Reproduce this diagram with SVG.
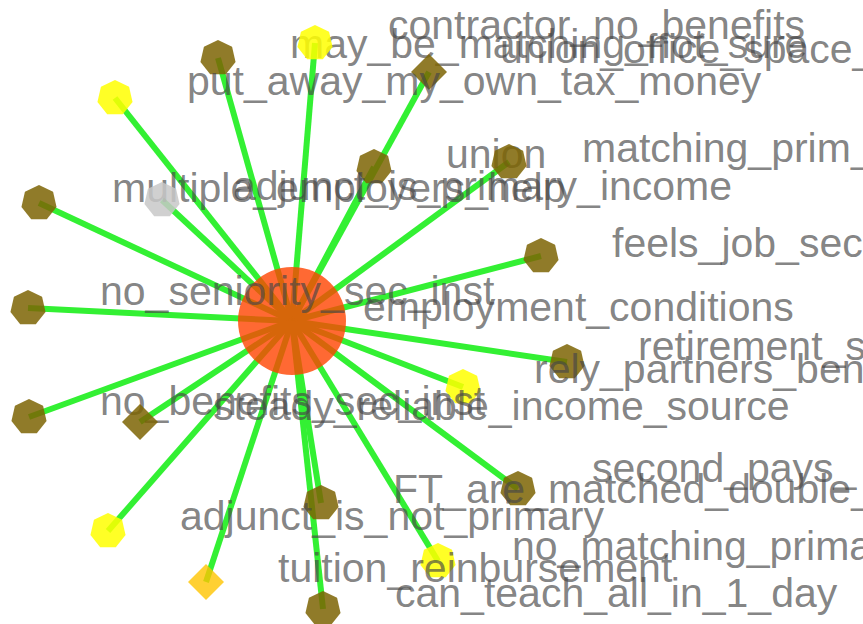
<svg xmlns="http://www.w3.org/2000/svg" width="863" height="624" viewBox="0 0 863 624">
<style>
.e{stroke:#33f033;stroke-width:6;fill:none}
.br{fill:#7d6404;fill-opacity:.85}
.ye{fill:#ffff00;fill-opacity:.85}
.gr{fill:#c8c8c8;fill-opacity:.85}
.go{fill:#ffc400;fill-opacity:.8}
.hub{fill:#ff4400;fill-opacity:.8}
text{font-family:"Liberation Sans",Arial,sans-serif;font-size:41px;fill:#474747;fill-opacity:.68}
</style>
<defs>
<polygon id="hep" points="0,-18 14.07,-11.22 17.55,4 7.81,16.22 -7.81,16.22 -17.55,4 -14.07,-11.22"/>
<polygon id="dia" points="0,-18 18,0 0,18 -18,0"/>
</defs>
<rect width="863" height="624" fill="#ffffff"/>
<g id="edges">
<line class="e" x1="292" y1="321" x2="218" y2="58"/>
<line class="e" x1="292" y1="321" x2="315" y2="43"/>
<line class="e" x1="292" y1="321" x2="429" y2="72"/>
<line class="e" x1="292" y1="321" x2="115" y2="98"/>
<line class="e" x1="292" y1="321" x2="374" y2="167"/>
<line class="e" x1="292" y1="321" x2="509" y2="162"/>
<line class="e" x1="292" y1="321" x2="39" y2="203"/>
<line class="e" x1="292" y1="321" x2="162" y2="200"/>
<line class="e" x1="292" y1="321" x2="541" y2="256"/>
<line class="e" x1="292" y1="321" x2="28" y2="308"/>
<line class="e" x1="292" y1="321" x2="567" y2="362"/>
<line class="e" x1="292" y1="321" x2="463" y2="387"/>
<line class="e" x1="292" y1="321" x2="29" y2="417"/>
<line class="e" x1="292" y1="321" x2="140" y2="422"/>
<line class="e" x1="292" y1="321" x2="518" y2="489"/>
<line class="e" x1="292" y1="321" x2="321" y2="503"/>
<line class="e" x1="292" y1="321" x2="108" y2="531"/>
<line class="e" x1="292" y1="321" x2="438" y2="561"/>
<line class="e" x1="292" y1="321" x2="206" y2="582"/>
<line class="e" x1="292" y1="321" x2="323" y2="609"/>
</g>
<g id="n_employment_conditions"><circle class="hub" cx="292" cy="321" r="54"/><text x="363" y="321">employment_conditions</text></g>
<g id="n_may_be_matching_not_sure"><use href="#hep" class="br" x="218" y="58"/><text x="290" y="58">may_be_matching_not_sure</text></g>
<g id="n_contractor_no_benefits"><use href="#hep" class="ye" x="315" y="43"/><text x="388" y="39">contractor_no_benefits</text></g>
<g id="n_union_office_space"><use href="#dia" class="br" x="429" y="72"/><text x="500" y="63">union_office_space_</text></g>
<g id="n_put_away_my_own_tax_money"><use href="#hep" class="ye" x="115" y="98"/><text x="187" y="95">put_away_my_own_tax_money</text></g>
<g id="n_union"><use href="#hep" class="br" x="374" y="167"/><text x="446" y="168">union</text></g>
<g id="n_matching_prim"><use href="#hep" class="br" x="509" y="162"/><text x="582" y="162">matching_prim_</text></g>
<g id="n_multiple_employers_help"><use href="#hep" class="br" x="39" y="203"/><text x="112" y="202">multiple_employers_help</text></g>
<g id="n_adjunct_is_primary_income"><use href="#hep" class="gr" x="162" y="200"/><text x="233" y="200">adjunct_is_primary_income</text></g>
<g id="n_feels_job_sec"><use href="#hep" class="br" x="541" y="256"/><text x="612" y="257">feels_job_sec</text></g>
<g id="n_no_seniority_sec_inst"><use href="#hep" class="br" x="28" y="308"/><text x="100" y="305">no_seniority_sec_inst</text></g>
<g id="n_retirement_s"><use href="#hep" class="br" x="567" y="362"/><text x="638" y="360">retirement_s</text></g>
<g id="n_rely_partners_ben"><use href="#hep" class="ye" x="463" y="387"/><text x="534" y="383">rely_partners_ben</text></g>
<g id="n_no_benefits_sec_inst"><use href="#hep" class="br" x="29" y="417"/><text x="100" y="415">no_benefits_sec_inst</text></g>
<g id="n_steady_reliable_income_source"><use href="#dia" class="br" x="140" y="422"/><text x="213" y="420">steady_reliable_income_source</text></g>
<g id="n_second_pays"><use href="#hep" class="br" x="518" y="489"/><text x="592" y="482">second_pays_</text></g>
<g id="n_FT_are_matched_double"><use href="#hep" class="br" x="321" y="503"/><text x="393" y="503">FT_are_matched_double_</text></g>
<g id="n_adjunct_is_not_primary"><use href="#hep" class="ye" x="108" y="531"/><text x="180" y="530">adjunct_is_not_primary</text></g>
<g id="n_no_matching_prima"><use href="#hep" class="ye" x="438" y="561"/><text x="512" y="560">no_matching_prima</text></g>
<g id="n_tuition_reinbursement"><use href="#dia" class="go" x="206" y="582"/><text x="278" y="582">tuition_reinbursement</text></g>
<g id="n_can_teach_all_in_1_day"><use href="#hep" class="br" x="323" y="609"/><text x="395" y="607">can_teach_all_in_1_day</text></g>
</svg>
